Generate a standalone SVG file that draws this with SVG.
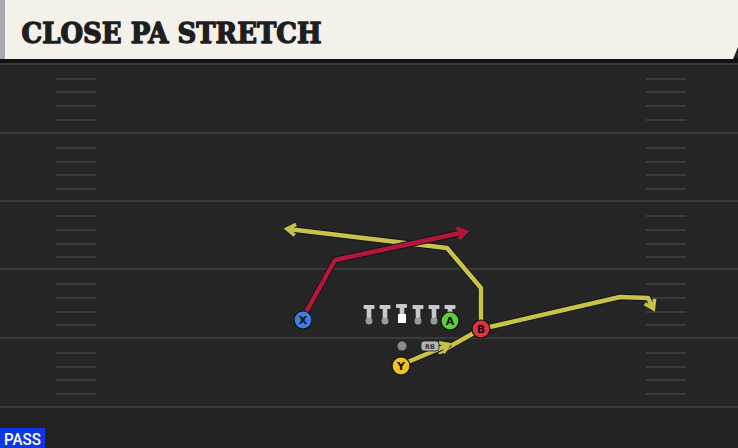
<svg xmlns="http://www.w3.org/2000/svg" width="738" height="448" viewBox="0 0 738 448">
<style>
.yard{stroke:#3a3a3a;stroke-width:2}
.hash{stroke:#3b3b3b;stroke-width:2}
.rt{fill:none;stroke-width:4.5;stroke-linejoin:round;stroke-linecap:round}
.rto{fill:none;stroke:#151515;stroke-width:6.5;stroke-linejoin:round;stroke-linecap:round}
.ylw{stroke:#c6c24a}
.red{stroke:#b3183a}
.pl{stroke:#111;stroke-width:1.2}
.lbl{font-family:"DejaVu Sans","Liberation Sans",sans-serif;font-weight:bold;font-size:11px;fill:#111;text-anchor:middle}
.ol{fill:#c9c9c9}
.old{fill:#9a9a9a}
</style>
<defs>
<marker id="ay" viewBox="0 0 14 14" refX="9.5" refY="7" markerWidth="14" markerHeight="14" markerUnits="userSpaceOnUse" orient="auto">
<path d="M2,1.5 L10.5,7 L2,12.5" fill="none" stroke="#c6c24a" stroke-width="3.6" stroke-linejoin="miter"/>
</marker>
<marker id="ar" viewBox="0 0 14 14" refX="9.5" refY="7" markerWidth="14" markerHeight="14" markerUnits="userSpaceOnUse" orient="auto">
<path d="M2,1.5 L10.5,7 L2,12.5" fill="none" stroke="#b3183a" stroke-width="3.6" stroke-linejoin="miter"/>
</marker>
<g id="tackle">
<rect x="-5.5" y="0" width="11" height="4" rx="1"/>
<rect x="-2.3" y="2" width="4.6" height="12"/>
</g>
</defs>
<rect x="0" y="0" width="738" height="448" fill="#252525"/>
<rect x="0" y="407" width="738" height="41" fill="#222"/>
<g id="field">
<line class="yard" x1="0" y1="64" x2="738" y2="64"/>
<line class="yard" x1="0" y1="133" x2="738" y2="133"/>
<line class="yard" x1="0" y1="201" x2="738" y2="201"/>
<line class="yard" x1="0" y1="269" x2="738" y2="269"/>
<line class="yard" x1="0" y1="338" x2="738" y2="338"/>
<line class="yard" x1="0" y1="407" x2="738" y2="407"/>
<g class="hash">
<path d="M56,79H96M56,92H96M56,106H96M56,120H96M56,148H96M56,162H96M56,175H96M56,189H96M56,216H96M56,230H96M56,244H96M56,257H96M56,284H96M56,298H96M56,312H96M56,325H96M56,353H96M56,367H96M56,380H96M56,394H96"/>
<path d="M646,79H686M646,92H686M646,106H686M646,120H686M646,148H686M646,162H686M646,175H686M646,189H686M646,216H686M646,230H686M646,244H686M646,257H686M646,284H686M646,298H686M646,312H686M646,325H686M646,353H686M646,367H686M646,380H686M646,394H686"/>
</g>
</g>
<g id="header">
<rect x="0" y="58" width="738" height="5" fill="#121212"/>
<polygon points="5,0 738,0 738,47 733,59 5,59" fill="#f4f1ea"/>
<rect x="0" y="0" width="5" height="59" fill="#a9a9a9"/>
<text x="21.5" y="42.5" font-family="DejaVu Serif,'Liberation Serif',serif" font-weight="bold" font-size="28" fill="#1e1e1e" textLength="300" lengthAdjust="spacingAndGlyphs" stroke="#1e1e1e" stroke-width="1.4" stroke-linejoin="round">CLOSE PA STRETCH</text>
</g>
<g id="connectors">
<polyline class="rto" points="481,329 481,288 447,248 288,229"/>
<polyline class="rt ylw" points="481,329 481,288 447,248 288,229" marker-end="url(#ay)"/>
<polyline class="rto" points="440,352 481,329 620,297 648,298 653,308"/>
<polyline class="rt ylw" points="440,352 481,329 620,297 648,298 653,308" marker-end="url(#ay)"/>
<polyline class="rto" points="403,364 448,345"/>
<polyline class="rt ylw" points="403,364 448,345" marker-end="url(#ay)"/>
<polyline class="rto" points="305,314 335,260 465,232"/>
<polyline class="rt red" points="305,314 335,260 465,232" marker-end="url(#ar)"/>
</g>
<g id="line">
<g class="ol"><use href="#tackle" x="369" y="305"/><use href="#tackle" x="385" y="305"/><use href="#tackle" x="418" y="305"/><use href="#tackle" x="434" y="305"/><use href="#tackle" x="450" y="305"/>
<rect x="396" y="304" width="11" height="4" rx="1"/><rect x="399.7" y="306" width="4.6" height="8"/></g>
<g class="old"><circle cx="369" cy="321" r="3.5"/><circle cx="385" cy="321" r="3.5"/><circle cx="418" cy="321" r="3.5"/><circle cx="434" cy="321" r="3.5"/></g>
<rect id="center" x="398" y="314" width="8" height="9" fill="#ffffff"/>
</g>
<g id="node-X"><circle cx="303" cy="320" r="9" fill="#3d7fdc" class="pl"/><text class="lbl" x="303" y="324">X</text></g>
<g id="node-A"><circle cx="450" cy="321" r="9" fill="#5ccf3a" class="pl"/><text class="lbl" x="450" y="325">A</text></g>
<g id="node-B"><circle cx="481" cy="329" r="9" fill="#e2303e" class="pl"/><text class="lbl" x="481" y="333">B</text></g>
<g id="node-Y"><circle cx="401" cy="366" r="9" fill="#f1c21d" class="pl"/><text class="lbl" x="401" y="370">Y</text></g>
<g id="node-QB"><circle cx="402" cy="346" r="4.5" fill="#8c8c8c"/></g>
<g id="node-RB"><rect x="421" y="341" width="18" height="10" rx="3" fill="#b4b4b4" stroke="#222" stroke-width="0.8"/><text x="430" y="349" font-family="'DejaVu Sans',sans-serif" font-weight="bold" font-size="6.5" fill="#333" text-anchor="middle">RB</text></g>
<g id="badge"><rect x="0" y="428" width="45" height="20" fill="#0c36e6"/><text x="4" y="445" font-family="Roboto,'Liberation Sans',sans-serif" font-weight="500" font-size="16" fill="#ffffff" textLength="37" lengthAdjust="spacingAndGlyphs">PASS</text></g>
</svg>
